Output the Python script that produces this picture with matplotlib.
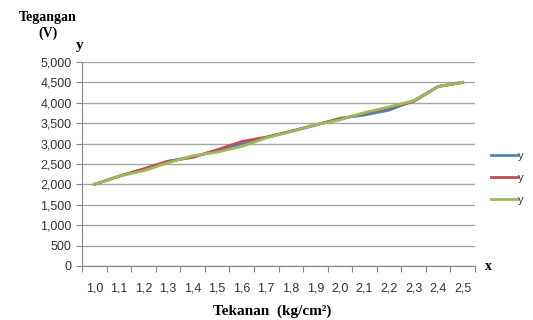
import matplotlib.pyplot as plt
from matplotlib.ticker import FuncFormatter, FixedLocator

kategori = ["1,0", "1,1", "1,2", "1,3", "1,4", "1,5", "1,6", "1,7",
            "1,8", "1,9", "2,0", "2,1", "2,2", "2,3", "2,4", "2,5"]
y_biru = [2000, 2200, 2370, 2560, 2680, 2820, 3000, 3150,
          3300, 3450, 3620, 3700, 3820, 4050, 4400, 4500]
y_merah = [2000, 2200, 2380, 2570, 2660, 2850, 3050, 3160,
           3300, 3460, 3600, 3740, 3880, 4030, 4400, 4500]
y_hijau = [2000, 2200, 2330, 2530, 2700, 2790, 2930, 3140,
           3290, 3460, 3580, 3760, 3900, 4050, 4400, 4500]

plt.rcParams['font.family'] = ['Liberation Sans', 'DejaVu Sans']
fig = plt.figure(figsize=(5.33, 3.2), dpi=100)
ax = fig.add_axes([82 / 533, 1 - 266 / 320, (475 - 82) / 533, (266 - 62) / 320])

xs = list(range(len(kategori)))
ax.plot(xs, y_biru, color="#4F81BD", lw=2, label="y")
ax.plot(xs, y_merah, color="#C0504D", lw=2, label="y")
ax.plot(xs, y_hijau, color="#9BBB59", lw=2, label="y")

ax.set_xlim(-0.5, len(kategori) - 0.5)
ax.set_ylim(0, 5000)
ax.set_yticks(range(0, 5001, 500))
ax.yaxis.set_major_formatter(FuncFormatter(lambda v, p: f"{int(v):,}"))
ax.grid(axis="y", color="#a6a6a6", lw=1)
ax.set_axisbelow(True)

ax.xaxis.set_major_locator(FixedLocator([i - 0.5 for i in range(len(kategori) + 1)]))
ax.xaxis.set_minor_locator(FixedLocator(xs))
ax.set_xticklabels([], minor=False)
ax.set_xticklabels(kategori, minor=True)
ax.tick_params(axis="x", which="major", length=4, color="#868686")
ax.tick_params(axis="x", which="minor", length=0, pad=12, labelsize=9, labelcolor="#333333")
ax.tick_params(axis="y", length=4, color="#868686", labelsize=9, labelcolor="#333333")

for s in ["top", "right"]:
    ax.spines[s].set_visible(False)
for s in ["left", "bottom"]:
    ax.spines[s].set_color("#868686")

serif = dict(family="Liberation Serif", fontweight="bold")
fig.text(48 / 533, 1 - 17 / 320, "Tegangan", fontsize=10, va="center", ha="center", **serif)
fig.text(48 / 533, 1 - 33 / 320, "(V)", fontsize=10, va="center", ha="center", **serif)
fig.text(80 / 533, 1 - 45 / 320, "y", fontsize=11, va="center", ha="center", **serif)
fig.text(488 / 533, 1 - 266 / 320, "x", fontsize=10, va="center", ha="center", **serif)
fig.text(272 / 533, 1 - 311 / 320, "Tekanan  (kg/cm²)", fontsize=11, va="center", ha="center", **serif)

fig.legend(loc="center left", bbox_to_anchor=(488 / 533, 1 - 178 / 320), frameon=False,
           fontsize=8, handlelength=2.3, labelspacing=1.1, handletextpad=0.1,
           borderpad=0.2, borderaxespad=0.1, labelcolor="#333333")

fig.savefig("out.png", dpi=100)
